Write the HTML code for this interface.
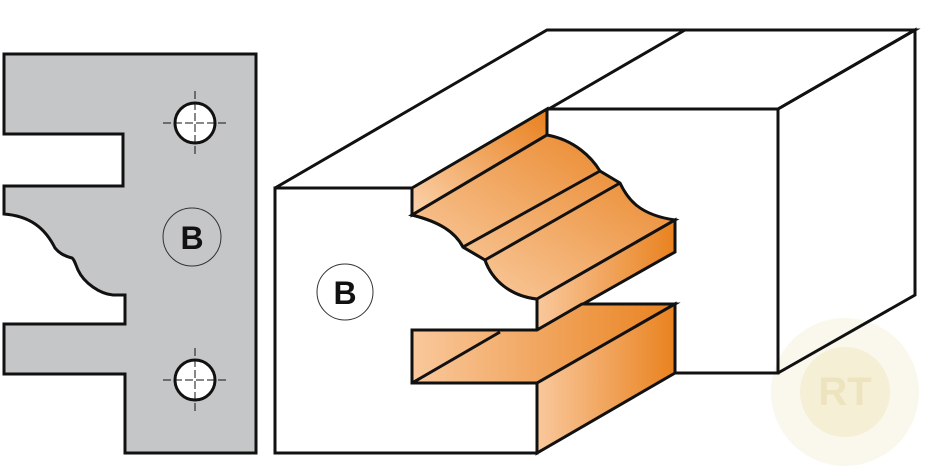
<!DOCTYPE html>
<html><head><style>body{margin:0;background:#fff}svg{display:block}</style></head><body>
<svg width="929" height="473" viewBox="0 0 929 473" xmlns="http://www.w3.org/2000/svg">
<defs>
<linearGradient id="o" x1="0" y1="1" x2="1" y2="0"><stop offset="0" stop-color="#fbd3ad"/><stop offset="1" stop-color="#e8801e"/></linearGradient>
<linearGradient id="o2" x1="0" y1="0" x2="1" y2="0"><stop offset="0" stop-color="#f9c89c"/><stop offset="1" stop-color="#e9821f"/></linearGradient>
<linearGradient id="o3" x1="412" y1="0" x2="675" y2="0" gradientUnits="userSpaceOnUse"><stop offset="0" stop-color="#f9c89c"/><stop offset="1" stop-color="#e9821f"/></linearGradient>
</defs>
<g stroke="#111" stroke-width="3" stroke-linejoin="miter" fill="none">
<path d="M4,54 H256 V453 H125 V374 H4 V324 H125 V295 H113 C100,294 84,283 78,270 C75,263 74,259 72,258 C65,256 60,254 55,248 C45,228 30,216 4,214 V186 H123 V134 H4 Z" fill="#c5c6c8"/>
<circle cx="195" cy="123" r="20" fill="#fff"/>
<circle cx="195" cy="380" r="20" fill="#fff"/>
</g>
<g stroke="#111" stroke-width="1" stroke-dasharray="8,3">
<line x1="163" y1="123" x2="228" y2="123"/><line x1="195" y1="91" x2="195" y2="155"/>
<line x1="163" y1="380" x2="228" y2="380"/><line x1="195" y1="348" x2="195" y2="413"/>
</g>
<circle cx="192" cy="237" r="29" fill="none" stroke="#333" stroke-width="1"/>
<text x="192" y="249" text-anchor="middle" font-family="Liberation Sans, sans-serif" font-weight="bold" font-size="32" fill="#111">B</text>

<circle cx="845" cy="392" r="74" fill="#f6f1dc" opacity="0.5"/>
<circle cx="845" cy="392" r="45" fill="#efe6c0" opacity="0.5"/>
<text x="845" y="405" text-anchor="middle" font-family="Liberation Sans, sans-serif" font-weight="bold" font-size="40" fill="#eadfb4" opacity="0.7">RT</text>

<g stroke="#111" stroke-width="3" stroke-linejoin="miter">
<path d="M275,188 L547,30 H915 L778,109" fill="#fff" fill-opacity="0"/>
<line x1="685" y1="30" x2="547" y2="110"/>
<path d="M547,109 H778 V373 H675" fill="none"/>
<path d="M778,109 L915,30 V295 L778,373" fill="none"/>
<path d="M275,188 H412 V215 C440,222 455,232 463,247 L485,260 C492,280 510,296 537,299 V330 H412 V383 H537 V453 H275 Z" fill="#fff"/>
<path d="M412,188 L547,109 V135 L412,215 Z" fill="url(#o)"/>
<path d="M412,215 L547,135 C575,140 592,158 600,171 L620,183 C628,200 640,215 675,220 L537,299 C510,296 492,280 485,260 L463,247 C455,232 440,222 412,215 Z" fill="url(#o)"/>
<path d="M537,299 L675,220 V252 L537,330 Z" fill="url(#o2)"/>
<line x1="463" y1="247" x2="600" y2="171"/>
<line x1="485" y1="260" x2="620" y2="183"/>
<path d="M412,330 H537 L582,304 H675 L537,383 H412 Z" fill="url(#o3)"/>
<path d="M537,383 L675,304 V373 L537,453 Z" fill="url(#o2)"/>
<line x1="412" y1="383" x2="500" y2="332"/>
</g>
<circle cx="345" cy="292" r="28" fill="none" stroke="#333" stroke-width="1"/>
<text x="345" y="304" text-anchor="middle" font-family="Liberation Sans, sans-serif" font-weight="bold" font-size="32" fill="#111">B</text>
</svg>
</body></html>
